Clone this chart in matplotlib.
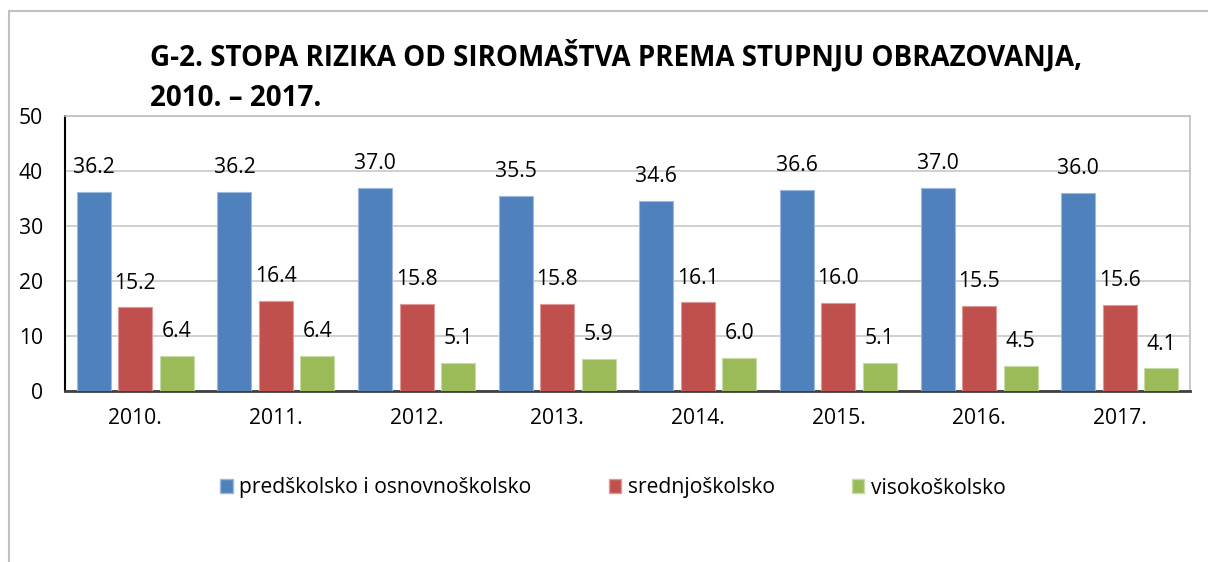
import numpy as np
import matplotlib.pyplot as plt
from matplotlib.patches import Rectangle

# data
years = ["2010.", "2011.", "2012.", "2013.", "2014.", "2015.", "2016.", "2017."]
predskolsko = [36.2, 36.2, 37.0, 35.5, 34.6, 36.6, 37.0, 36.0]
srednjoskolsko = [15.2, 16.4, 15.8, 15.8, 16.1, 16.0, 15.5, 15.6]
visokoskolsko = [6.4, 6.4, 5.1, 5.9, 6.0, 5.1, 4.5, 4.1]
series_names = ["predškolsko i osnovnoškolsko", "srednjoškolsko", "visokoškolsko"]
colors = ["#4f81bd", "#c0504d", "#9bbb59"]
edges = ["#9cb9dd", "#df9a98", "#c6dba5"]

plt.rcParams['font.family'] = ['Open Sans', 'DejaVu Sans']
fs = 15.2

W, H = 1208, 562
fig = plt.figure(figsize=(W / 100, H / 100), dpi=100)

# outer chart frame
fig.patches.append(Rectangle((9 / W, -0.1), 1.2, (H - 11) / H + 0.1,
                             transform=fig.transFigure, fill=False,
                             edgecolor="#c0c0c0", linewidth=1.5))

ax = fig.add_axes([65 / W, (H - 391) / H, (1190 - 65) / W, (391 - 116) / H])

x = np.arange(len(years))
width = 0.242
step = 0.295
for i, (vals, name) in enumerate(zip([predskolsko, srednjoskolsko, visokoskolsko], series_names)):
    pos = x + (i - 1) * step
    ax.bar(pos, vals, width, color=colors[i], edgecolor=edges[i], linewidth=0.8,
           label=name, zorder=3)
    for p, v in zip(pos, vals):
        ax.annotate(f"{v:.1f}", (p, v), xytext=(0, 10), textcoords="offset points",
                    ha="center", va="bottom", fontsize=fs, color="black", zorder=4)

ax.set_xlim(-0.5, len(years) - 0.5)
ax.set_ylim(0, 50)
ax.set_yticks(range(0, 51, 10))
ax.set_xticks(x)
ax.set_xticklabels(years)
ax.tick_params(axis="both", length=0, labelsize=fs)
ax.tick_params(axis="x", pad=12)
ax.tick_params(axis="y", pad=16)
ax.grid(axis="y", color="#c8c8c8", linewidth=1.2, zorder=0)
for side in ["top", "right"]:
    ax.spines[side].set_color("#c0c0c0")
    ax.spines[side].set_linewidth(1.2)
ax.spines["left"].set_color("black")
ax.spines["left"].set_linewidth(1.5)
ax.spines["bottom"].set_color("#404040")
ax.spines["bottom"].set_linewidth(2)

fig.text(150 / W, 1 - 66 / H, "G-2. STOPA RIZIKA OD SIROMAŠTVA PREMA STUPNJU OBRAZOVANJA,",
         fontsize=20, fontweight="bold", ha="left", va="baseline")
fig.text(150 / W, 1 - 106 / H, "2010. – 2017.",
         fontsize=20, fontweight="bold", ha="left", va="baseline")

handles = [Rectangle((0, 0), 1, 1, facecolor=c, edgecolor=e) for c, e in zip(colors, edges)]
fig.legend(handles, series_names, loc="center", bbox_to_anchor=(613 / W, 1 - 488 / H),
           ncol=3, frameon=False, fontsize=fs, handlelength=0.6, handleheight=0.6,
           handletextpad=0.3, columnspacing=3.65)

fig.savefig("out.png", dpi=100)
